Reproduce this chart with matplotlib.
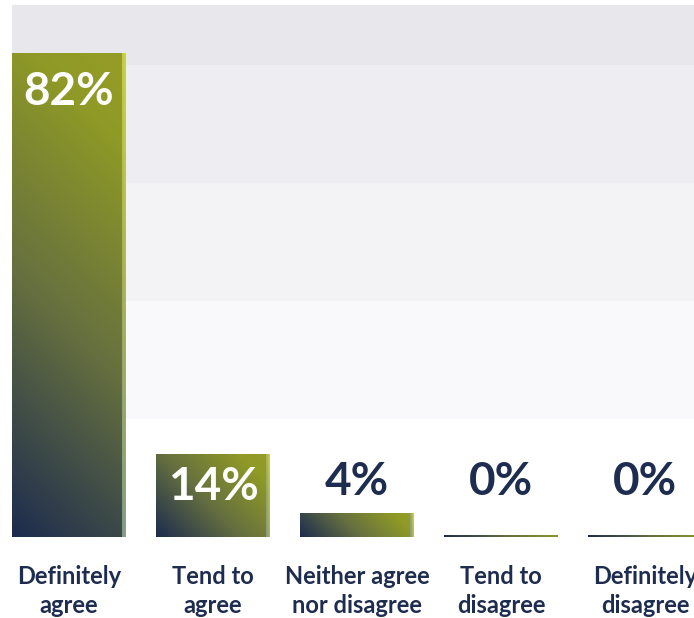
import numpy as np
import matplotlib
matplotlib.use("Agg")
import matplotlib.pyplot as plt
from matplotlib.colors import LinearSegmentedColormap

categories = ["Definitely\nagree", "Tend to\nagree", "Neither agree\nnor disagree",
              "Tend to\ndisagree", "Definitely\ndisagree"]
values = [82, 14, 4, 0, 0]
labels = ["82%", "14%", "4%", "0%", "0%"]

NAVY = "#1d2c4f"
OLIVE = "#8f9a26"
bar_cmap = LinearSegmentedColormap.from_list("bar", [(0, NAVY), (0.45, "#66703f"), (0.85, OLIVE), (1, "#979c28")])
edge_cmap = LinearSegmentedColormap.from_list("edge", [(0, "#7b968f"), (0.5, "#a8b154"), (1, "#cfd73a")])

plt.rcParams["font.family"] = ["Lato", "DejaVu Sans"]

fig = plt.figure(figsize=(6.94, 6.18), dpi=100)
W, H = 694, 618
# axes runs off the right-hand edge on purpose
ax = fig.add_axes([12 / W, (H - 537) / H, 682 / W, 532 / H])

bar_w = 114 / 144
ax.set_xlim(-bar_w / 2, -bar_w / 2 + 682 / 144)
ax.set_ylim(0, 90.2)

# shaded bands behind the bars
bands = [(20, 40, "#f9f9fb"), (40, 60, "#f3f3f6"), (60, 80, "#eeedf2"), (80, 90.2, "#e8e7ec")]
for lo, hi, c in bands:
    ax.axhspan(lo, hi, color=c, lw=0, zorder=0)

px_y = 90.2 / 532  # data units per pixel vertically
px_x = 1 / 144
nx, ny = 60, 200
u = np.linspace(0, 1, nx)[None, :]
v = np.linspace(0, 1, ny)[:, None]

for i, (val, lab) in enumerate(zip(values, labels)):
    x0, x1 = i - bar_w / 2, i + bar_w / 2
    h = max(val, 2 * px_y)
    # 45 degree gradient measured in screen pixels
    w_px, h_px = 114, h / px_y
    grad = (u * w_px + v * h_px) / (w_px + h_px) * np.ones((ny, nx))
    if val == 0:
        grad = grad * 0.8
    ax.imshow(grad, extent=(x0, x1, 0, h), origin="lower", aspect="auto",
              cmap=bar_cmap, vmin=0, vmax=1, zorder=2, interpolation="bilinear")
    if val > 0:
        sx0 = x1 - 4 * px_x
        ax.imshow(grad, extent=(sx0, x1, 0, h), origin="lower", aspect="auto",
                  cmap=edge_cmap, vmin=0, vmax=1, zorder=3, interpolation="bilinear")

    if val >= 10:
        ax.text(i, val - min(val * 0.4, 6.6), lab, ha="center", va="center", color="white",
                fontsize=33, fontweight="bold", zorder=4)
    else:
        ax.text(i, max(val, 4) + 5.4, lab, ha="center", va="center", color=NAVY,
                fontsize=33, fontweight="bold", zorder=4)

    ax.text(i, -54 * px_y, categories[i], ha="center", va="center", color=NAVY,
            fontsize=17, fontweight="bold", linespacing=1.32)

ax.set_xticks([])
ax.set_yticks([])
for s in ax.spines.values():
    s.set_visible(False)
ax.patch.set_alpha(0)

fig.savefig("out.png", dpi=100)
